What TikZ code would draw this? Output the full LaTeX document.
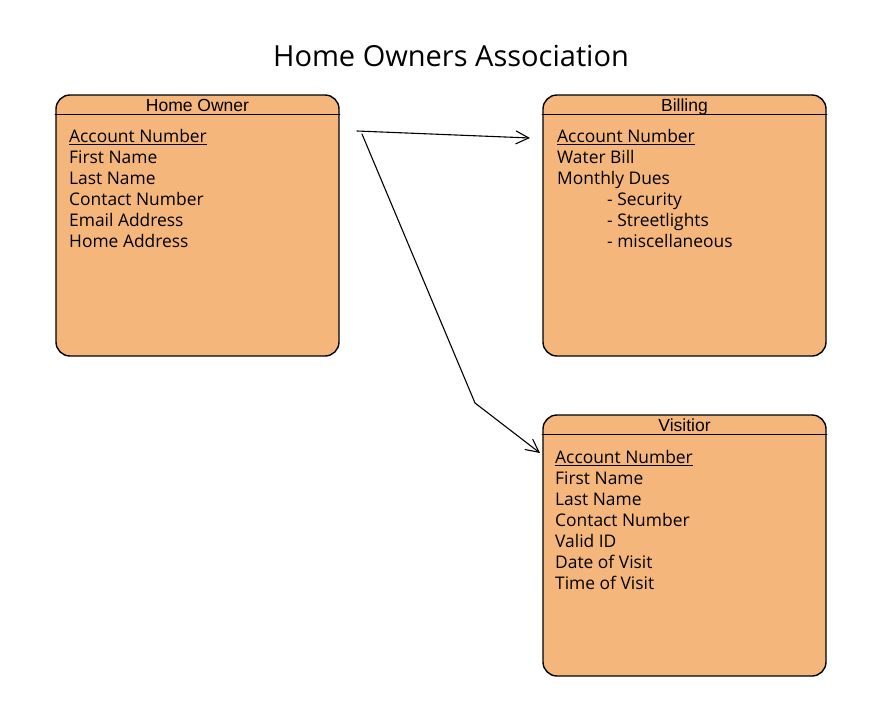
\documentclass[tikz,border=0pt]{standalone}
\usepackage{fontspec}
\setmainfont{Open Sans}
\newfontfamily\headfont{Liberation Sans}
\usetikzlibrary{arrows.meta}
\definecolor{entityfill}{RGB}{244,182,122}
\tikzset{
	entity/.style = {draw, fill = entityfill, line width = 1.4pt, rounded corners = 14pt,
		minimum width = 283pt, minimum height = 261pt, inner sep = 0pt},
	entityhead/.style = {font = \headfont\fontsize{17.5}{20}\selectfont, inner sep = 0pt, anchor = base},
	entitybody/.style = {font = \fontsize{17.4}{21}\selectfont, align = left, inner sep = 0pt, anchor = north west},
	link/.style = {line width = 1.1pt, -{Straight Barb[length = 13pt, width = 13pt, line width = 1.1pt]}}
}
\begin{document}
\begin{tikzpicture}[x = 1pt, y = -1pt, line join = round, line cap = round]
	\useasboundingbox (0,0) rectangle (892,726);
	\node[font = \fontsize{29}{33}\selectfont] (title) at (451,56) {Home Owners Association};
	% entities
	\node[entity] (owner) at (197.5,225.5) {};
	\node[entity] (billing) at (684.5,225.5) {};
	\node[entity] (visitor) at (684.5,545.5) {};
	\foreach \e in {owner, billing, visitor}
		\draw[line width = 1.4pt] ([yshift = -20pt]\e.north west) -- ([yshift = -20pt]\e.north east);
	\node[entityhead] (ownerhead) at ([yshift = -17pt]owner.north) {Home Owner};
	\node[entityhead] (billinghead) at ([yshift = -17pt]billing.north) {Billing};
	\node[entityhead] (visitorhead) at ([yshift = -17pt]visitor.north) {Visitior};
	\node[entitybody] (ownerbody) at (69,129) {\underline{Account Number}\\First Name\\Last Name\\Contact Number\\Email Address\\Home Address};
	\node[entitybody] (billingbody) at (557,129) {\underline{Account Number}\\Water Bill\\Monthly Dues\\\hspace*{50pt}- Security\\\hspace*{50pt}- Streetlights\\\hspace*{50pt}- miscellaneous};
	\node[entitybody] (visitorbody) at (555,450) {\underline{Account Number}\\First Name\\Last Name\\Contact Number\\Valid ID\\Date of Visit\\Time of Visit};
	% relations
	\path
	(357,131) coordinate (A)
	(530,138) coordinate (B)
	(362,134) coordinate (C)
	(475,403) coordinate (D)
	(540,453) coordinate (E)
	;
	\draw[link] (A) -- (B);
	\draw[link] (C) -- (D) -- (E);
\end{tikzpicture}
\end{document}
